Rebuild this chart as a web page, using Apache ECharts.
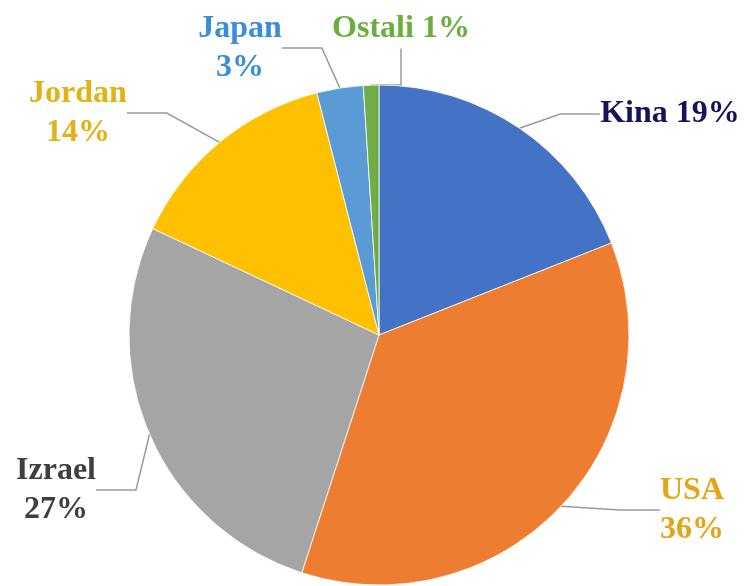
<!DOCTYPE html>
<html>
<head>
<meta charset="utf-8">
<script src="https://cdn.jsdelivr.net/npm/echarts@6/dist/echarts.min.js"></script>
<style>
  html, body { margin: 0; padding: 0; background: #fff; }
  #chart { width: 744px; height: 586px; }
</style>
</head>
<body>
<div id="chart"></div>
<script>
const names = ['Kina', 'USA', 'Izrael', 'Jordan', 'Japan', 'Ostali'];
const shares = [19, 36, 27, 14, 3, 1];
const sliceColors = ['#4472C4', '#ED7D31', '#A5A5A5', '#FFC000', '#5B9BD5', '#70AD47'];
const labelColors = ['#14145C', '#E3A514', '#3F3F3F', '#E2B215', '#3A8ED6', '#6AAE3C'];
const twoLine = [false, true, true, true, true, false];
// label centres, px
const labelPos = [[670, 114], [692, 510], [56, 490], [78, 113], [240, 48], [401, 29]];

const chart = echarts.init(document.getElementById('chart'));

chart.setOption({
  animation: false,
  series: [{
    type: 'pie',
    center: [379, 335],
    radius: 250,
    startAngle: 90,
    clockwise: true,
    avoidLabelOverlap: false,
    itemStyle: { borderColor: '#fff', borderWidth: 0.8 },
    label: {
      show: true,
      position: 'outside',
      overflow: 'none',
      fontFamily: '"Liberation Serif", "DejaVu Serif", serif',
      fontWeight: 'bold',
      fontSize: 32,
      lineHeight: 39,
      align: 'center'
    },
    labelLine: {
      show: true,
      length: 20,
      length2: 40,
      lineStyle: { color: '#9a9a9a', width: 1.5 }
    },
    labelLayout: (p) => ({
      x: labelPos[p.dataIndex][0],
      y: labelPos[p.dataIndex][1],
      align: 'center',
      verticalAlign: 'middle'
    }),
    data: names.map((n, i) => ({
      name: n,
      value: shares[i],
      itemStyle: { color: sliceColors[i] },
      label: {
        color: labelColors[i],
        formatter: twoLine[i] ? '{b}\n{c}%' : '{b} {c}%'
      }
    }))
  }]
});
</script>
</body>
</html>
